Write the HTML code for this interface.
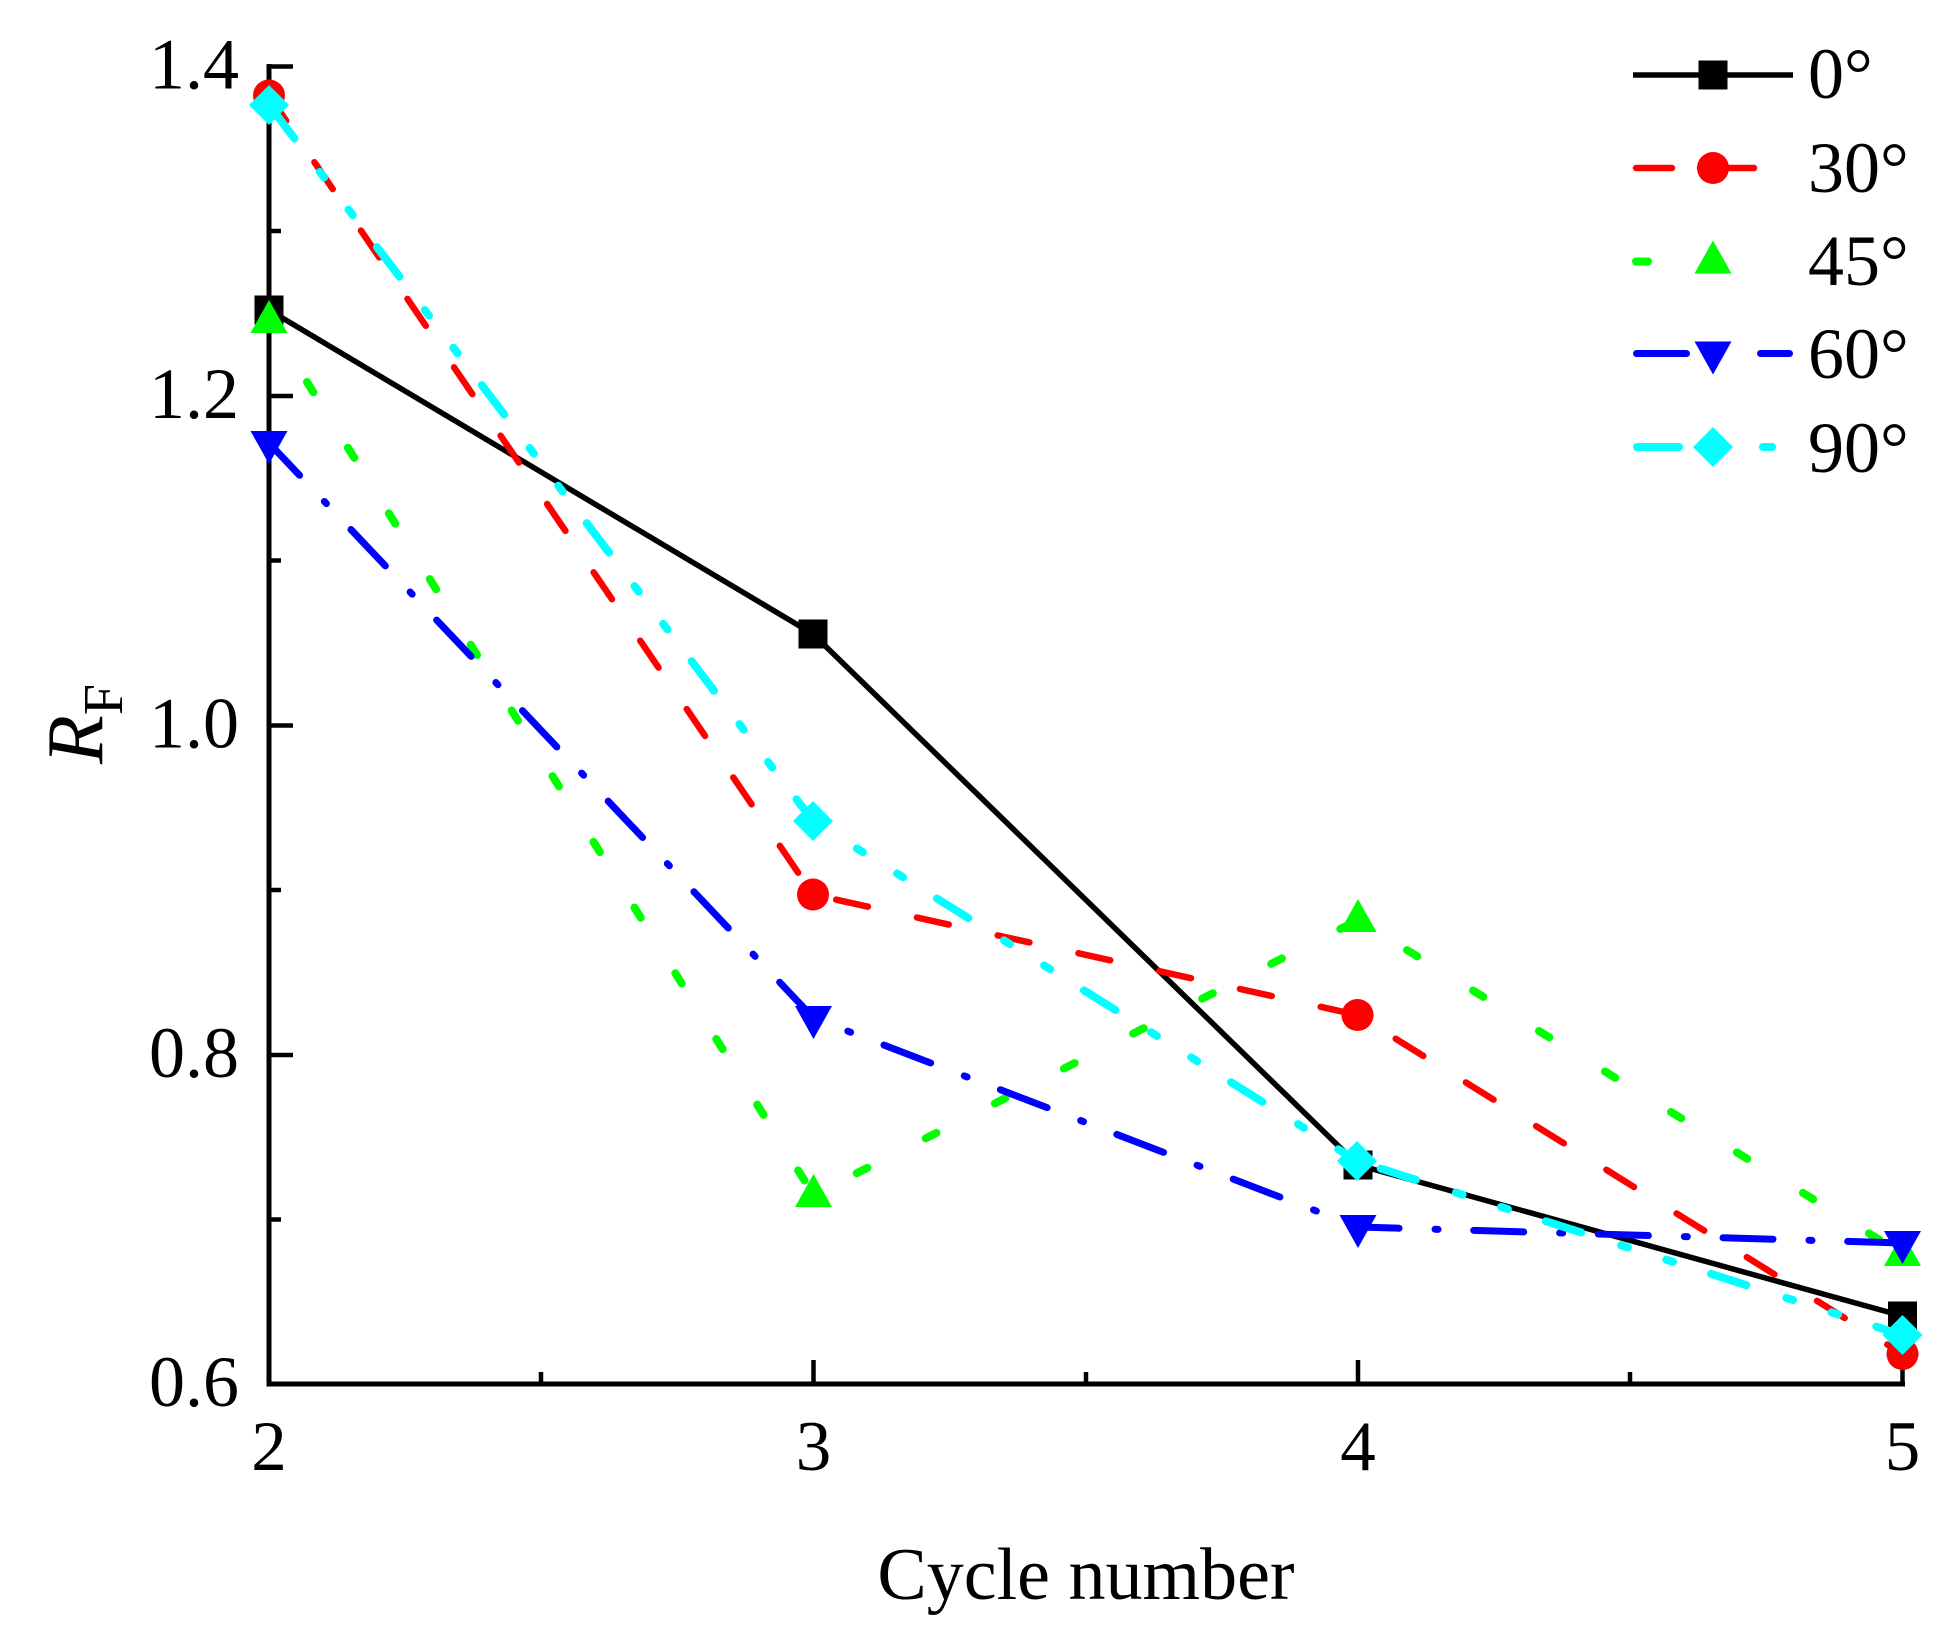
<!DOCTYPE html>
<html>
<head>
<meta charset="utf-8">
<style>
  html, body { margin: 0; padding: 0; background: #ffffff; }
  svg { display: block; }
  text { font-family: "Liberation Serif", "Times New Roman", serif; fill: #000; }
</style>
</head>
<body>
<svg width="1959" height="1637" viewBox="0 0 1959 1637" xmlns="http://www.w3.org/2000/svg">
  <rect x="0" y="0" width="1959" height="1637" fill="#ffffff"/>

  <!-- Axes -->
  <g stroke="#000" stroke-width="5" fill="none">
    <line x1="269" y1="64" x2="269" y2="1386.5"/>
    <line x1="266.5" y1="1384" x2="1905" y2="1384"/>
  </g>
  <!-- Y ticks -->
  <g stroke="#000" stroke-width="4.5" fill="none">
    <line x1="266.5" y1="66.5" x2="293" y2="66.5"/>
    <line x1="269" y1="396" x2="293" y2="396"/>
    <line x1="269" y1="725.5" x2="293" y2="725.5"/>
    <line x1="269" y1="1055" x2="293" y2="1055"/>
    <line x1="269" y1="231" x2="281" y2="231"/>
    <line x1="269" y1="560.5" x2="281" y2="560.5"/>
    <line x1="269" y1="890" x2="281" y2="890"/>
    <line x1="269" y1="1219.5" x2="281" y2="1219.5"/>
    <!-- X ticks -->
    <line x1="813.5" y1="1384" x2="813.5" y2="1360"/>
    <line x1="1358" y1="1384" x2="1358" y2="1360"/>
    <line x1="1902.5" y1="1386" x2="1902.5" y2="1360"/>
    <line x1="541" y1="1384" x2="541" y2="1372"/>
    <line x1="1086" y1="1384" x2="1086" y2="1372"/>
    <line x1="1630" y1="1384" x2="1630" y2="1372"/>
  </g>

  <!-- Tick labels -->
  <g font-size="72" text-anchor="end">
    <text x="239" y="88.5">1.4</text>
    <text x="239" y="418">1.2</text>
    <text x="239" y="747.5">1.0</text>
    <text x="239" y="1077">0.8</text>
    <text x="239" y="1406">0.6</text>
  </g>
  <g font-size="71" text-anchor="middle">
    <text x="269" y="1470">2</text>
    <text x="813.5" y="1470">3</text>
    <text x="1358" y="1470">4</text>
    <text x="1902.5" y="1470">5</text>
  </g>

  <!-- Axis titles -->
  <text x="1086" y="1599" font-size="74" text-anchor="middle">Cycle number</text>
  <text transform="translate(102,764) rotate(-90)" font-size="80" font-style="italic">R<tspan font-style="normal" font-size="56" dy="20">F</tspan></text>

  <!-- Series 0° black -->
  <path d="M269,310 L813,634 L1358,1165 L1902.5,1316" fill="none" stroke="#000" stroke-width="5.5" stroke-linejoin="round"/>
  <g fill="#000">
    <rect x="254.5" y="295.5" width="29" height="29"/>
    <rect x="798.5" y="619.5" width="29" height="29"/>
    <rect x="1343.5" y="1150.5" width="29" height="29"/>
    <rect x="1888" y="1301.5" width="29" height="29"/>
  </g>

  <!-- Series 30° red -->
  <path d="M269,95.5 L813,894.5 L1357.5,1015 L1902.5,1354" fill="none" stroke="#ff0000" stroke-width="6.5" stroke-linecap="round" stroke-dasharray="32.5 50.2" stroke-dashoffset="2"/>
  <g fill="#ff0000">
    <circle cx="269" cy="95.5" r="16"/>
    <circle cx="813" cy="894.5" r="16"/>
    <circle cx="1357.5" cy="1015" r="16"/>
    <circle cx="1902.5" cy="1354" r="16"/>
  </g>

  <!-- Series 45° green -->
  <path d="M269,321 L813.5,1195 L1358,920 L1902.5,1254" fill="none" stroke="#00ff00" stroke-width="8" stroke-linecap="round" stroke-dasharray="12 65.4" stroke-dashoffset="5.5"/>
  <g fill="#00ff00">
    <polygon points="269,300 250.5,333 287.5,333"/>
    <polygon points="813.5,1174 795,1207 832,1207"/>
    <polygon points="1358,899 1339.5,932 1376.5,932"/>
    <polygon points="1902.5,1233 1884,1266 1921,1266"/>
  </g>

  <!-- Series 60° blue -->
  <path d="M269,443 L813.5,1018 L1358,1227 L1902.5,1243" fill="none" stroke="#0000ff" stroke-width="7" stroke-linecap="round" stroke-dasharray="50 36 3 35.7" stroke-dashoffset="5.5"/>
  <g fill="#0000ff">
    <polygon points="250.5,431 287.5,431 269,464"/>
    <polygon points="795,1006 832,1006 813.5,1039"/>
    <polygon points="1339.5,1215 1376.5,1215 1358,1248"/>
    <polygon points="1884,1231 1921,1231 1902.5,1264"/>
  </g>

  <!-- Series 90° cyan -->
  <path d="M269,105 L813,821 L1357,1161 L1902.5,1335" fill="none" stroke="#00ffff" stroke-width="8" stroke-linecap="round" stroke-dasharray="37 42 7 40.4 7 40" stroke-dashoffset="-5"/>
  <g fill="#00ffff">
    <polygon points="269,85 289,105 269,125 249,105"/>
    <polygon points="813,801 833,821 813,841 793,821"/>
    <polygon points="1357,1141 1377,1161 1357,1181 1337,1161"/>
    <polygon points="1902.5,1315 1922.5,1335 1902.5,1355 1882.5,1335"/>
  </g>

  <!-- Legend -->
  <g>
    <line x1="1633" y1="75" x2="1793" y2="75" stroke="#000" stroke-width="5.5"/>
    <rect x="1698.5" y="60.5" width="29" height="29" fill="#000"/>

    <line x1="1636" y1="168" x2="1672" y2="168" stroke="#ff0000" stroke-width="6.5" stroke-linecap="round"/>
    <line x1="1700" y1="168" x2="1754" y2="168" stroke="#ff0000" stroke-width="6.5" stroke-linecap="round"/>
    <circle cx="1713" cy="168" r="16" fill="#ff0000"/>

    <line x1="1636" y1="261.5" x2="1648" y2="261.5" stroke="#00ff00" stroke-width="8" stroke-linecap="round"/>
    <polygon points="1713,240.5 1694.5,273.5 1731.5,273.5" fill="#00ff00"/>

    <line x1="1636.5" y1="353.5" x2="1686.5" y2="353.5" stroke="#0000ff" stroke-width="7" stroke-linecap="round"/>
    <line x1="1760.5" y1="353.5" x2="1789.5" y2="353.5" stroke="#0000ff" stroke-width="7" stroke-linecap="round"/>
    <polygon points="1694.5,341.5 1731.5,341.5 1713,374.5" fill="#0000ff"/>

    <line x1="1637" y1="447" x2="1679" y2="447" stroke="#00ffff" stroke-width="8" stroke-linecap="round"/>
    <line x1="1763" y1="447" x2="1772" y2="447" stroke="#00ffff" stroke-width="8" stroke-linecap="round"/>
    <polygon points="1713,427 1733,447 1713,467 1693,447" fill="#00ffff"/>
  </g>
  <g font-size="72">
    <text x="1808" y="98">0°</text>
    <text x="1808" y="192">30°</text>
    <text x="1808" y="285">45°</text>
    <text x="1808" y="378">60°</text>
    <text x="1808" y="472">90°</text>
  </g>
</svg>
</body>
</html>
